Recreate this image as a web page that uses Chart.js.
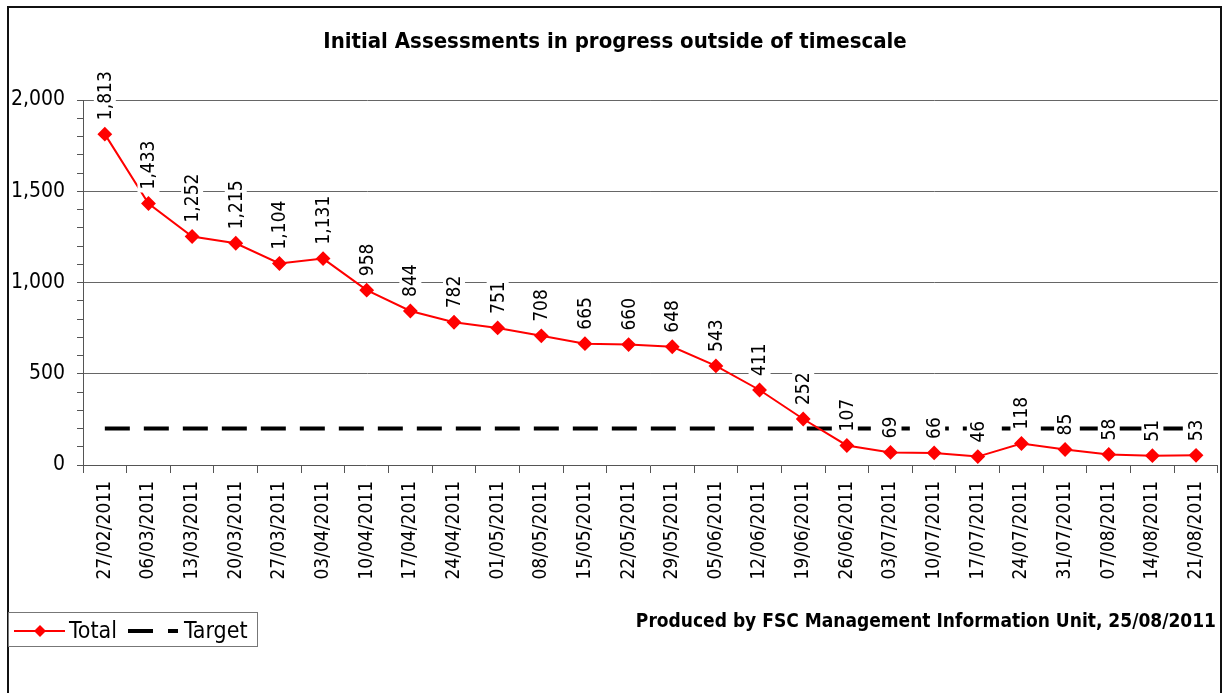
<!DOCTYPE html>
<html>
<head>
<meta charset="utf-8">
<title>Initial Assessments in progress outside of timescale</title>
<script src="https://cdn.jsdelivr.net/npm/chart.js@4/dist/chart.umd.min.js"></script>
<style>
  html, body { margin: 0; padding: 0; background: #fff; }
  #wrap { position: relative; width: 1227px; height: 693px; }
</style>
</head>
<body>
<div id="wrap"><canvas id="chart" width="1227" height="693"></canvas></div>
<script>
// week-ending dates
const weeks = [
  "27/02/2011", "06/03/2011", "13/03/2011", "20/03/2011", "27/03/2011",
  "03/04/2011", "10/04/2011", "17/04/2011", "24/04/2011", "01/05/2011",
  "08/05/2011", "15/05/2011", "22/05/2011", "29/05/2011", "05/06/2011",
  "12/06/2011", "19/06/2011", "26/06/2011", "03/07/2011", "10/07/2011",
  "17/07/2011", "24/07/2011", "31/07/2011", "07/08/2011", "14/08/2011",
  "21/08/2011"
];
const totals = [
  1813, 1433, 1252, 1215, 1104, 1131, 958, 844, 782, 751, 708, 665, 660,
  648, 543, 411, 252, 107, 69, 66, 46, 118, 85, 58, 51, 53
];
const target = [
  200, 200, 200, 200, 200, 200, 200, 200, 200, 200, 200, 200, 200,
  200, 200, 200, 200, 200, 200, 200, 200, 200, 200, 200, 200, 200
];
const yMajorTicks = [0, 500, 1000, 1500, 2000];

const chartTitle = "Initial Assessments in progress outside of timescale";
const footerText = "Produced by FSC Management Information Unit, 25/08/2011";

const FONT = '"DejaVu Sans Condensed", "DejaVu Sans", sans-serif';
const fmt = v => v.toLocaleString("en-GB");

// rotated value labels with a white box behind them
const valueLabels = {
  id: "valueLabels",
  afterDatasetsDraw(chart) {
    const ctx = chart.ctx;
    const meta = chart.getDatasetMeta(0);
    ctx.save();
    ctx.font = "19px " + FONT;
    meta.data.forEach((pt, i) => {
      const text = fmt(totals[i]);
      const w = ctx.measureText(text).width;
      ctx.save();
      ctx.translate(pt.x, pt.y - 14);
      ctx.rotate(-Math.PI / 2);
      ctx.fillStyle = "#fff";
      ctx.fillRect(-3, -11, w + 6, 22);
      ctx.fillStyle = "#000";
      ctx.textAlign = "left";
      ctx.textBaseline = "middle";
      ctx.fillText(text, 0, 1);
      ctx.restore();
    });
    ctx.restore();
  }
};

// frame, title, footer and the boxed legend
const decorations = {
  id: "decorations",
  afterDraw(chart) {
    const ctx = chart.ctx;
    ctx.save();
    ctx.strokeStyle = "#111";
    ctx.lineWidth = 2;
    ctx.strokeRect(8, 7, 1213, 720);

    ctx.fillStyle = "#000";
    ctx.textBaseline = "middle";
    ctx.textAlign = "center";
    ctx.font = "bold 22px " + FONT;
    ctx.fillText(chartTitle, 615, 42);

    ctx.textAlign = "right";
    ctx.font = "bold 19px " + FONT;
    ctx.fillText(footerText, 1216, 622);

    // legend
    ctx.lineWidth = 1;
    ctx.strokeStyle = "#777";
    ctx.strokeRect(8.5, 612.5, 249, 34);
    const ly = 631;
    ctx.strokeStyle = "#ff0000";
    ctx.lineWidth = 2;
    ctx.beginPath(); ctx.moveTo(14, ly); ctx.lineTo(65, ly); ctx.stroke();
    ctx.fillStyle = "#ff0000";
    ctx.beginPath();
    ctx.moveTo(40, ly - 6); ctx.lineTo(46, ly); ctx.lineTo(40, ly + 6); ctx.lineTo(34, ly);
    ctx.closePath(); ctx.fill();
    ctx.strokeStyle = "#000";
    ctx.lineWidth = 4;
    ctx.setLineDash([25, 15]);
    ctx.beginPath(); ctx.moveTo(128, ly); ctx.lineTo(178, ly); ctx.stroke();
    ctx.setLineDash([]);
    ctx.fillStyle = "#000";
    ctx.textAlign = "left";
    ctx.font = "23px " + FONT;
    ctx.fillText("Total", 69, ly + 1);
    ctx.fillText("Target", 184, ly + 1);
    ctx.restore();
  }
};

new Chart(document.getElementById("chart").getContext("2d"), {
  type: "line",
  data: {
    labels: weeks,
    datasets: [
      {
        label: "Total",
        data: totals,
        borderColor: "#ff0000",
        backgroundColor: "#ff0000",
        borderWidth: 2,
        pointStyle: "rectRot",
        pointRadius: 6,
        pointBackgroundColor: "#ff0000",
        pointBorderColor: "#ff0000",
        tension: 0
      },
      {
        label: "Target",
        data: target,
        borderColor: "#000",
        borderWidth: 4,
        borderDash: [25, 14],
        pointRadius: 0,
        tension: 0
      }
    ]
  },
  options: {
    responsive: false,
    animation: false,
    layout: { padding: { left: 0, right: 7, top: 100, bottom: 0 } },
    plugins: {
      legend: { display: false },
      title: { display: false },
      tooltip: { enabled: false }
    },
    scales: {
      x: {
        offset: true,
        grid: { drawOnChartArea: false, offset: true, color: "#555", tickLength: 8 },
        border: { color: "#555" },
        ticks: {
          autoSkip: false,
          minRotation: 90,
          maxRotation: 90,
          padding: 8,
          color: "#000",
          font: { family: FONT, size: 19 }
        },
        afterFit: s => { s.height = 228; }
      },
      y: {
        min: 0,
        max: 2000,
        ticks: {
          stepSize: 100,
          autoSkip: false,
          padding: 12,
          color: "#000",
          font: { family: FONT, size: 21 },
          callback: v => (yMajorTicks.includes(v) ? fmt(v) : "")
        },
        grid: {
          color: c => (c.tick && c.tick.value > 0 && yMajorTicks.includes(c.tick.value) ? "#666" : "rgba(0,0,0,0)"),
          tickColor: "#555",
          tickLength: 6
        },
        border: { color: "#555" },
        afterFit: s => { s.width = 83; }
      }
    }
  },
  plugins: [valueLabels, decorations]
});
</script>
</body>
</html>
